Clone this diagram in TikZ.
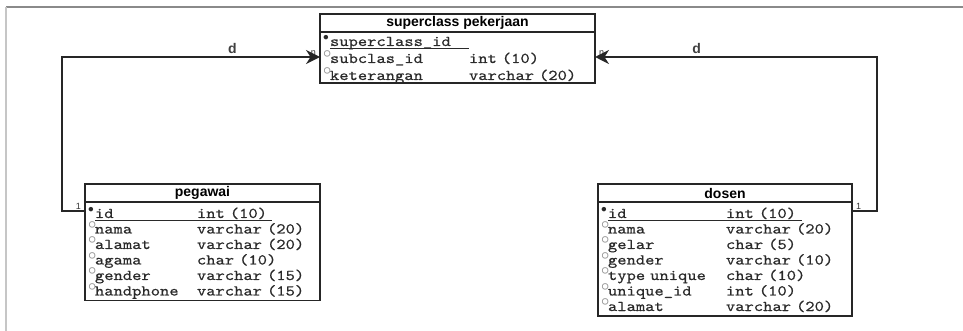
\documentclass[tikz,border=0pt]{standalone}
\usepackage{amsmath}
\usepackage{fontspec}
\setmainfont{Liberation Sans}
\setmonofont{lmmono10-regular.otf}[FakeStretch=1.18, FakeBold=0.6]
\usepackage{xcolor}
\usepackage{graphicx}
\usetikzlibrary{positioning}
\usetikzlibrary{arrows.meta}
\definecolor{rowtext}{HTML}{2A2A2A}
\definecolor{framegray}{HTML}{8A8A8A}
\newcommand{\rowfont}{\fontsize{15}{15.5}\selectfont\ttfamily\lineskiplimit=-\maxdimen}
\newcommand{\suprowfont}{\fontsize{15}{17}\selectfont\ttfamily\lineskiplimit=-\maxdimen}
% key row: name width, underline length, name, type
\newcommand{\pkrow}[4]{\raisebox{0pt}[13pt][2pt]{\makebox[7pt][l]{\raisebox{0.9ex}{\scalebox{0.8}{$\bullet$}}}\rlap{\rule[-2.5pt]{#2}{0.9pt}}\makebox[#1][l]{#3}#4}}
\newcommand{\fkrow}[3]{\raisebox{0pt}[13pt][2pt]{\makebox[7pt][l]{\raisebox{0.8ex}{\textcolor{gray!85}{$\boldsymbol{\circ}$}}}\makebox[#1][l]{#2}#3}}
\tikzstyle{tabhead} = [rectangle, draw=black!85, line width=1.6pt, outer sep=0pt, inner sep=0pt,
minimum height=18pt, font=\fontsize{14}{16}\selectfont\bfseries, anchor=north west]
\tikzstyle{tabbody} = [rectangle, draw=black!85, line width=1.6pt, outer sep=0pt, inner xsep=3pt,
inner ysep=3pt, align=left, font=\rowfont, text=rowtext]
\tikzstyle{line} = [draw=black!85, line width=1.6pt, -{Stealth[length=14pt,width=14pt]}]
\tikzstyle{dlabel} = [font=\fontsize{14}{14}\selectfont\bfseries, text=black!75, inner sep=3pt]
\tikzstyle{card} = [font=\fontsize{9}{9}\selectfont, text=black!80, inner sep=1pt]

\begin{document}
\begin{tikzpicture}[x=1pt, y=-1pt]
    \useasboundingbox (0,0) rectangle (963,331);
    % frame
    \draw [framegray, line width=1.2pt] (6,7) -- (963,7);
    \draw [gray!45, line width=2pt] (6,7) -- (6,331);

    % tables
    \node [tabhead, minimum width=275pt] (suphead) at (320,14) {superclass pekerjaan};
    \node [tabbody, below=0pt of suphead, text width=269pt, inner ysep=1pt,
        font=\suprowfont] (supbody) {\pkrow{139pt}{139pt}{superclass\_id}{}\\
        \fkrow{139pt}{subclas\_id}{int (10)}\\
        \fkrow{139pt}{keterangan}{varchar (20)}};

    \node [tabhead, minimum width=235pt] (peghead) at (85,184) {pegawai};
    \node [tabbody, below=0pt of peghead, text width=229pt] (pegbody) {\pkrow{102pt}{177pt}{id}{int (10)}\\
        \fkrow{102pt}{nama}{varchar (20)}\\
        \fkrow{102pt}{alamat}{varchar (20)}\\
        \fkrow{102pt}{agama}{char (10)}\\
        \fkrow{102pt}{gender}{varchar (15)}\\
        \fkrow{102pt}{handphone}{varchar (15)}};

    \node [tabhead, minimum width=254pt] (doshead) at (598,184) {dosen};
    \node [tabbody, below=0pt of doshead, text width=248pt] (dosbody) {\pkrow{118pt}{194pt}{id}{int (10)}\\
        \fkrow{118pt}{nama}{varchar (20)}\\
        \fkrow{118pt}{gelar}{char (5)}\\
        \fkrow{118pt}{gender}{varchar (10)}\\
        \fkrow{118pt}{type unique}{char (10)}\\
        \fkrow{118pt}{unique\_id}{int (10)}\\
        \fkrow{118pt}{alamat}{varchar (20)}};

    % joints
    \coordinate (supin) at ([yshift=-25pt]supbody.north west);
    \coordinate (supout) at ([yshift=-25pt]supbody.north east);
    \coordinate (pegjoin) at ([yshift=-9pt]pegbody.north west);
    \coordinate (dosjoin) at ([yshift=-9pt]dosbody.north east);

    % cardinalities
    \node [card, above left=0pt and 3pt of supin] (supn1) {n};
    \node [card, above right=0pt and 3pt of supout] (supn2) {n};
    \node [card, above left=0pt and 3pt of pegjoin] (peg1) {1};
    \node [card, above right=0pt and 3pt of dosjoin] (dos1) {1};

    % edges
    \draw [line] (pegjoin) -- ++(-23,0) |- node [dlabel, pos=0.83, above] (dleft) {d} (supin);
    \draw [line] (dosjoin) -- ++(25,0) |- node [dlabel, pos=0.82, above] (dright) {d} (supout);
\end{tikzpicture}
\end{document}
